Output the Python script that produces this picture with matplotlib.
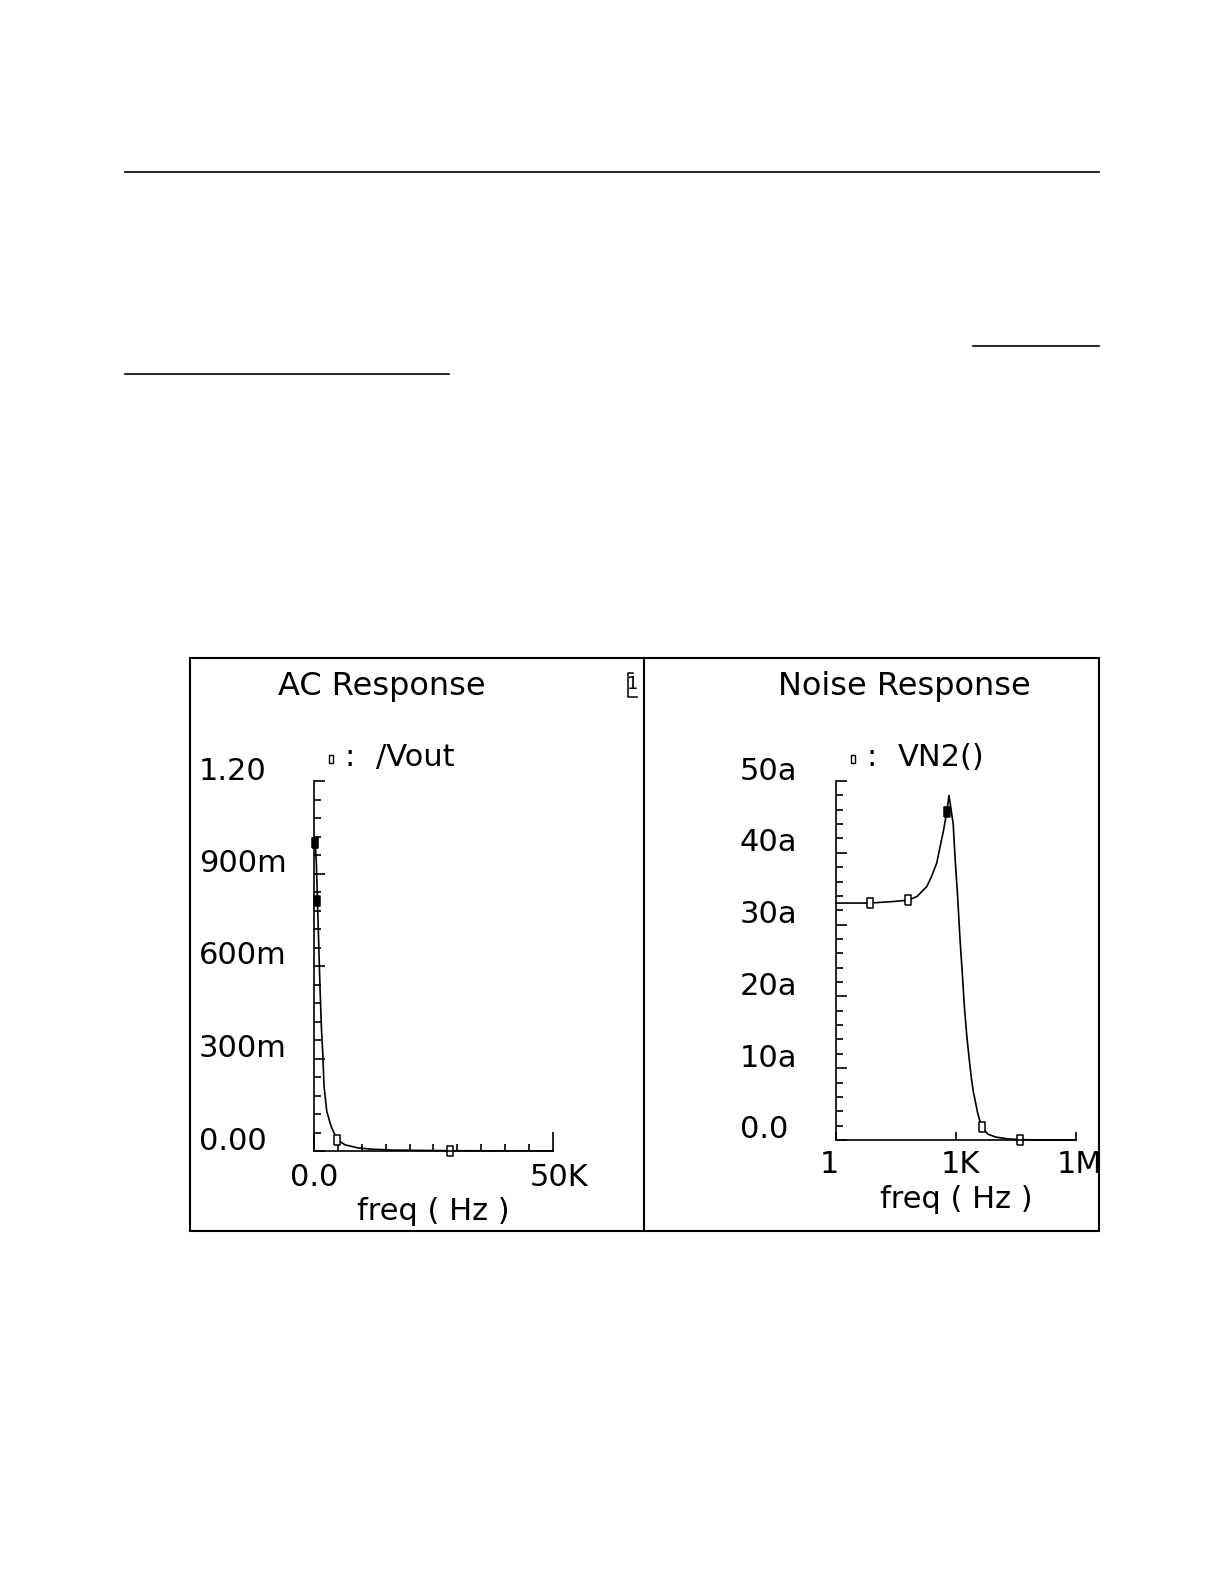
import matplotlib
matplotlib.use("Agg")
import matplotlib.pyplot as plt
from matplotlib.lines import Line2D
from matplotlib.patches import Rectangle
from matplotlib.transforms import offset_copy, ScaledTranslation
import numpy as np

W, H = 1224, 1584

# AC response, /Vout vs linear freq (Hz)
ac_freq = [0, 120, 314, 500, 730, 840, 1050, 1255, 1550, 1820, 2100, 2660,
           3200, 3700, 4900, 6500, 9200, 12000, 16500, 22000, 28500, 40000, 50000]
ac_vout = [1.0, 1.0, 0.99, 0.93, 0.81, 0.75, 0.64, 0.53, 0.40, 0.32, 0.21, 0.13,
           0.10, 0.075, 0.036, 0.02, 0.01, 0.006, 0.003, 0.002, 0.001, 0.0005, 0.0003]
ac_mark_freq = [120, 730, 4900, 28500]
ac_mark_val = [1.0, 0.81, 0.036, 0.001]
ac_mark_fill = [True, True, False, False]
ac_yticks = [0.0, 0.3, 0.6, 0.9, 1.2]
ac_ylabels = ["0.00", "300m", "600m", "900m", "1.20"]
ac_xticks = [0, 50000]
ac_xlabels = ["0.0", "50K"]

# Noise response, VN2() in atto (1e-18) vs log freq (Hz)
nz_freq = [1, 7, 25, 63, 105, 186, 245, 331, 398, 479, 589, 668, 851, 955,
           1096, 1259, 1445, 1622, 1862, 2138, 2399, 2692, 3090, 3467, 4365,
           6310, 10000, 13180, 20000, 40000, 100000, 1000000]
nz_vn2 = [33.0, 33.0, 33.2, 33.4, 33.9, 35.3, 36.7, 38.6, 40.8, 42.9, 45.7, 48.0,
          44.0, 39.0, 34.0, 28.0, 23.0, 18.5, 14.5, 11.3, 8.8, 6.8, 5.2, 3.8, 1.8,
          0.8, 0.4, 0.3, 0.15, 0.05, 0.01, 0.0]
nz_mark_freq = [7, 63, 589, 4365, 40000]
nz_mark_val = [33.0, 33.4, 45.7, 1.8, 0.05]
nz_mark_fill = [False, False, True, False, False]
nz_yticks = [0, 10, 20, 30, 40, 50]
nz_ylabels = ["0.0", "10a", "20a", "30a", "40a", "50a"]
nz_xticks = [1, 1e3, 1e6]
nz_xlabels = ["1", "1K", "1M"]

plt.rcParams["font.family"] = "DejaVu Sans"
FS = 22
TFS = 23
rect = [(-0.25, -0.5), (0.25, -0.5), (0.25, 0.5), (-0.25, 0.5), (-0.25, -0.5)]

fig = plt.figure(figsize=(W / 100, H / 100), dpi=100)


def fx(px):
    return px / W


def fy(py):
    return 1 - py / H


def hline(x0, x1, y, lw=1.2):
    fig.add_artist(Line2D([fx(x0), fx(x1)], [fy(y), fy(y)], color="black",
                          lw=lw, transform=fig.transFigure))


# page rules
hline(125, 1099, 172)
hline(973, 1099, 346)
hline(125, 449, 374)

# outer frame and divider
fig.add_artist(Rectangle((fx(190), fy(1231)), fx(1099) - fx(190), fy(658) - fy(1231),
                         fill=False, ec="black", lw=1.5, transform=fig.transFigure))
fig.add_artist(Line2D([fx(644), fx(644)], [fy(658), fy(1231)], color="black",
                      lw=1.5, transform=fig.transFigure))
# small "1" tag
fig.add_artist(Line2D([fx(633), fx(628), fx(628), fx(637)],
                      [fy(673), fy(673), fy(697), fy(697)], color="black",
                      lw=1.1, transform=fig.transFigure))
fig.text(fx(633), fy(684), "1", fontsize=13, ha="center", va="center")


def style(ax, ylab_x, yt, yl, ylim):
    for s in ["top", "right"]:
        ax.spines[s].set_visible(False)
    for s in ["left", "bottom"]:
        ax.spines[s].set_linewidth(1.2)
    ax.tick_params(which="both", direction="in", width=1.2, labelsize=FS)
    ax.tick_params(which="major", length=8)
    ax.tick_params(which="minor", length=5)
    ax.set_ylim(*ylim)
    ax.set_yticks(yt)
    ax.set_yticklabels([])
    tr = offset_copy(ax.get_yaxis_transform(), fig=fig, x=0, y=10, units="dots")
    for v, s in zip(yt, yl):
        ax.text(ylab_x, v, s, transform=tr, ha="left", va="center", fontsize=FS)


def shift_xlabels(ax, dx_px):
    for lab, dx in zip(ax.get_xticklabels(), dx_px):
        lab.set_transform(lab.get_transform() + ScaledTranslation(dx / 100, 0, fig.dpi_scale_trans))


def draw(ax, xs, ys, mx, my, mf):
    ax.plot(xs, ys, color="black", lw=1.2, clip_on=False)
    for x, y, f in zip(mx, my, mf):
        ax.plot([x], [y], marker=rect, ms=7.5, mew=1.1, mec="black",
                mfc="black" if f else "white", clip_on=False)


# AC response panel
ax1 = fig.add_axes([fx(314), fy(1151), (553 - 314) / W, (1151 - 781) / H])
ax1.set_xlim(0, 50000)
style(ax1, -0.481, ac_yticks, ac_ylabels, (0, 1.2))
ax1.set_yticks(np.arange(0, 1.2001, 0.06), minor=True)
ax1.set_xticks(ac_xticks)
ax1.set_xticklabels(ac_xlabels)
ax1.set_xticks(np.arange(0, 50001, 5000), minor=True)
ax1.tick_params(axis="x", which="major", length=14, pad=9)
shift_xlabels(ax1, [0, 6])
draw(ax1, ac_freq, ac_vout, ac_mark_freq, ac_mark_val, ac_mark_fill)
ax1.set_xlabel("freq ( Hz )", fontsize=FS, va="center")
ax1.xaxis.set_label_coords(0.5, -60 / 370)

# Noise response panel
ax2 = fig.add_axes([fx(836), fy(1140), (1076 - 836) / W, (1140 - 781) / H])
ax2.set_xscale("log")
ax2.set_xlim(1, 1e6)
style(ax2, -0.40, nz_yticks, nz_ylabels, (0, 50))
ax2.set_yticks(np.arange(0, 50.01, 2), minor=True)
ax2.set_xticks(nz_xticks)
ax2.set_xticklabels(nz_xlabels)
ax2.xaxis.set_minor_locator(matplotlib.ticker.NullLocator())
ax2.tick_params(axis="x", which="major", length=6, pad=7)
shift_xlabels(ax2, [-7, 4, 4])
draw(ax2, nz_freq, nz_vn2, nz_mark_freq, nz_mark_val, nz_mark_fill)
ax2.set_xlabel("freq ( Hz )", fontsize=FS, va="center")
ax2.xaxis.set_label_coords(0.5, -60 / 359)

# panel titles
fig.text(fx(382), fy(687), "AC Response", fontsize=TFS, ha="center", va="center")
fig.text(fx(904), fy(687), "Noise Response", fontsize=TFS, ha="center", va="center")

# legends
fig.add_artist(Line2D([fx(331)], [fy(759)], marker=rect, ms=6, mew=1.0, mec="black",
                      mfc="white", ls="none", transform=fig.transFigure))
fig.text(fx(344), fy(757), ":", fontsize=FS, ha="left", va="center")
fig.text(fx(376), fy(757), "/Vout", fontsize=FS, ha="left", va="center")
fig.add_artist(Line2D([fx(853)], [fy(759)], marker=rect, ms=6, mew=1.0, mec="black",
                      mfc="white", ls="none", transform=fig.transFigure))
fig.text(fx(866), fy(757), ":", fontsize=FS, ha="left", va="center")
fig.text(fx(898), fy(757), "VN2()", fontsize=FS, ha="left", va="center")

fig.savefig("out.png", dpi=100)
